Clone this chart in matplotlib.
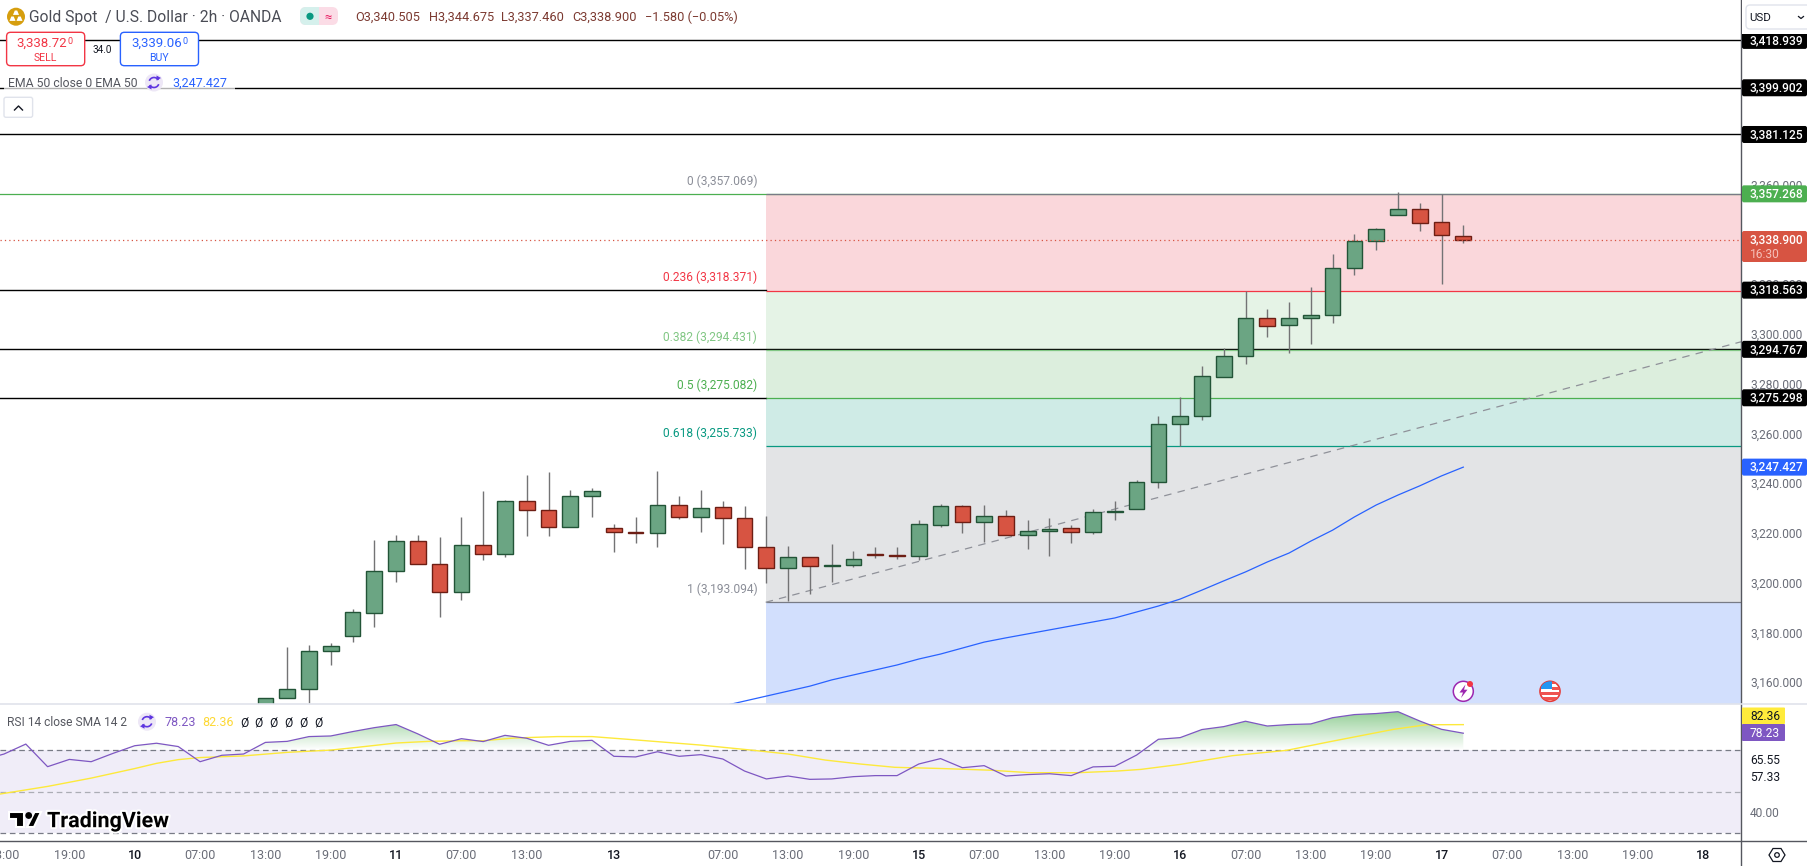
import numpy as np
import matplotlib
matplotlib.use('Agg')
import matplotlib.pyplot as plt
from matplotlib.patches import Arc, Circle, FancyBboxPatch, PathPatch, Polygon, Rectangle
from matplotlib.path import Path
from matplotlib.transforms import ScaledTranslation
import matplotlib.patheffects as pe

plt.rcParams['font.family'] = ['Roboto', 'DejaVu Sans']

# 2h candles, bar 0 is the first one visible above the RSI pane
opens = [3151.0, 3154.5, 3158.1, 3173.4, 3179.4, 3188.9, 3205.5, 3217.6, 3208.4, 3197.1, 3216.0, 3212.4, 3233.7, 3230.1,
         3223.2, 3235.7, 3222.8, 3221.2, 3220.8, 3232.1, 3227.2, 3231.3, 3226.8, 3215.2, 3206.8, 3211.2, 3207.6, 3208.0,
         3212.4, 3212.0, 3211.9, 3224.0, 3231.7, 3225.2, 3227.6, 3220.0, 3221.6, 3222.8, 3221.2, 3229.3, 3230.5, 3241.3,
         3264.6, 3267.8, 3283.5, 3292.0, 3307.2, 3304.4, 3307.2, 3308.4, 3327.3, 3338.2, 3348.6, 3351.0, 3345.8, 3340.505]
highs = [3154.5, 3175.0, 3175.8, 3176.6, 3190.4, 3218.1, 3220.0, 3220.0, 3219.2, 3227.2, 3237.7, 3234.1, 3244.3, 3245.3,
         3238.1, 3238.9, 3224.4, 3227.2, 3245.7, 3235.7, 3238.1, 3233.7, 3231.7, 3227.6, 3215.6, 3211.2, 3216.4, 3213.6,
         3215.2, 3215.2, 3226.0, 3232.5, 3232.1, 3232.1, 3230.1, 3226.0, 3226.8, 3224.0, 3230.5, 3233.7, 3242.1, 3267.8,
         3275.5, 3287.9, 3295.2, 3318.3, 3310.8, 3313.7, 3319.7, 3333.0, 3341.0, 3343.4, 3357.9, 3353.4, 3357.1, 3344.675]
lows = [3148.0, 3154.5, 3152.5, 3168.0, 3177.3, 3183.3, 3201.4, 3208.4, 3187.3, 3194.2, 3210.2, 3211.4, 3219.9, 3219.9,
        3223.2, 3227.5, 3213.4, 3217.1, 3215.5, 3226.4, 3221.5, 3216.7, 3206.6, 3201.0, 3193.8, 3196.6, 3201.1, 3207.4,
        3211.0, 3210.6, 3210.2, 3223.5, 3221.1, 3217.5, 3220.0, 3214.6, 3211.8, 3217.1, 3220.7, 3226.3, 3230.5, 3238.9,
        3255.9, 3266.4, 3283.5, 3289.0, 3299.9, 3293.4, 3297.0, 3305.5, 3324.8, 3334.8, 3348.6, 3342.5, 3321.2, 3337.46]
closes = [3154.5, 3158.1, 3173.4, 3175.4, 3189.1, 3205.5, 3217.6, 3208.4, 3197.1, 3216.0, 3212.4, 3233.7, 3230.1, 3223.2,
          3235.7, 3237.7, 3221.2, 3220.8, 3232.1, 3227.2, 3230.9, 3226.8, 3215.2, 3206.8, 3211.2, 3207.6, 3208.0, 3210.4,
          3212.2, 3211.8, 3224.4, 3231.7, 3225.2, 3227.6, 3220.0, 3221.6, 3222.4, 3221.2, 3229.3, 3229.7, 3241.3, 3264.6,
          3267.8, 3283.9, 3292.0, 3307.2, 3304.0, 3307.2, 3308.4, 3327.3, 3338.2, 3343.0, 3351.0, 3345.4, 3340.6, 3338.9]

# EMA 50, bars 21 to 55
ema_first_bar = 21
ema_vals = [3151.4, 3153.4, 3155.4, 3157.4, 3159.4, 3161.9, 3163.9, 3165.9, 3167.9, 3170.3, 3172.3, 3174.7, 3177.1,
            3178.8, 3180.4, 3182.0, 3183.6, 3185.2, 3186.8, 3189.2, 3191.6, 3194.4, 3198.0, 3201.7, 3205.3, 3209.3,
            3212.9, 3217.7, 3222.1, 3227.4, 3232.2, 3236.2, 3239.9, 3243.9, 3247.427]

# RSI, bars -13 to 55
rsi_first_bar = -13
rsi_vals = [65.3, 68.2, 73.0, 62.1, 65.6, 64.5, 68.5, 72.2, 73.4, 71.8, 64.5, 67.6, 68.2,
            73.8, 74.3, 76.6, 76.9, 79.0, 80.9, 82.4, 77.9, 72.9, 75.6, 74.2, 77.2, 75.8, 72.4, 74.3, 74.8, 67.1, 66.8,
            69.3, 67.1, 67.9, 65.8, 60.0, 56.2, 57.6, 56.0, 56.2, 57.3, 57.8, 57.8, 63.4, 66.0, 61.6, 62.6, 57.6, 58.3,
            58.7, 57.8, 62.0, 62.3, 67.7, 75.3, 76.1, 80.0, 81.4, 84.0, 81.7, 82.4, 82.7, 85.7, 87.2, 87.7, 88.6, 84.1,
            80.1, 78.23]

# SMA of the RSI, read at the bends
sma_bars = [-13, -12.2, -10, -8, -6, -5, -4, -3, -1, 1, 3, 4.2, 6, 7.5, 9, 10, 11.4, 13.4, 15, 17, 20, 22.3, 24, 25.7,
            27.3, 28.9, 31.1, 33.3, 35.1, 37.3, 39.1, 40.2, 42, 44.4, 46.9, 48.9, 51.8, 53.3, 55]
sma_vals = [47.5, 48.9, 52.6, 56.6, 61.2, 63.7, 65.5, 66.5, 67.3, 69.0, 70.1, 71.4, 73.5, 74.3, 74.6, 74.6, 75.9, 76.6,
            76.6, 75.0, 72.5, 70.1, 68.2, 65.3, 63.4, 61.8, 61.2, 60.4, 59.2, 59.2, 60.0, 60.8, 63.2, 67.4, 70.0, 74.2,
            80.1, 82.3, 82.36]

# fib retracement
fib_ratios = ['0', '0.236', '0.382', '0.5', '0.618', '1']
fib_prices = [3357.069, 3318.371, 3294.431, 3275.082, 3255.733, 3193.094]
fib_line_colors = ['#787B86', '#F23645', '#81C784', '#4CAF50', '#089981', '#787B86']
fib_text_colors = ['#8b8e98', '#F23645', '#81C784', '#4CAF50', '#089981', '#8b8e98']
fib_fills = ['#FAD7DB', '#E5F3E6', '#DCEEDD', '#CFEBE6', '#E3E4E6']
fib_below = '#D2DFFD'
fib_start_bar = 22.97

# horizontal lines, the first group runs right across, the second stops at the fib box
black_levels_full = [3418.939, 3399.902, 3381.125, 3294.767]
black_levels_left = [3318.563, 3275.298]
green_level = 3357.268
last_price = 3338.900
ema_last = 3247.427
trend_bars = [22.97, 67.75]
trend_prices = [3193.1, 3297.8]

# x axis
time_bars = [-12, -9, -6, -3, 0, 3, 6, 9, 12, 16, 21, 24, 27, 30, 33, 36, 39, 42, 45, 48, 51, 54, 57, 60, 63, 66]
time_labels = ['13:00', '19:00', '10', '07:00', '13:00', '19:00', '11', '07:00', '13:00', '13', '07:00', '13:00',
               '19:00', '15', '07:00', '13:00', '19:00', '16', '07:00', '13:00', '19:00', '17', '07:00', '13:00',
               '19:00', '18']
price_ticks = list(range(3160, 3421, 20))

W, H = 1808, 866
plot_r, main_b, rsi_b = 1741, 704, 841
x_lim = (-12.185, 67.75)
price_lim = (3152.22, 3435.18)
rsi_lim = (26.3, 92.3)

fig = plt.figure(figsize=(W / 100, H / 100), dpi=100, facecolor='white')
ax = fig.add_axes([0, (H - main_b) / H, plot_r / W, main_b / H])
ax2 = fig.add_axes([0, (H - rsi_b) / H, plot_r / W, (rsi_b - main_b) / H])
ui = fig.add_axes([0, 0, 1, 1], zorder=10)
ui.set_xlim(0, W)
ui.set_ylim(H, 0)
ui.axis('off')
ui.patch.set_alpha(0)


def px(size):
    return size * 0.72


def label(x, y, s, size=12, color='#131722', ha='left', **kw):
    # text sat a little low against the reference
    return ui.text(x, y - 1.3, s, fontsize=px(size), color=color, ha=ha, va='center_baseline', **kw)


def price_y(p):
    return (price_lim[1] - p) / (price_lim[1] - price_lim[0]) * main_b


def box(x0, y0, x1, y1, fc, ec='none', r=2, lw=1.0, z=3):
    ui.add_patch(FancyBboxPatch((x0, y0), x1 - x0, y1 - y0, boxstyle='round,pad=0,rounding_size=%s' % r,
                                fc=fc, ec=ec, lw=lw, zorder=z))


def sync_icon(cx, cy):
    ui.add_patch(Circle((cx, cy), 9, fc='#EDE7F6', ec='none', zorder=3))
    ui.add_patch(Arc((cx, cy), 10, 10, theta1=20, theta2=150, color='#5E35E0', lw=1.2, zorder=4))
    ui.add_patch(Arc((cx, cy), 10, 10, theta1=200, theta2=330, color='#5E35E0', lw=1.2, zorder=4))
    ui.add_patch(Polygon([(cx + 2.5, cy - 7), (cx + 7, cy - 4.5), (cx + 2.5, cy - 2)], fc='#5E35E0', ec='none', zorder=4))
    ui.add_patch(Polygon([(cx - 2.5, cy + 7), (cx - 7, cy + 4.5), (cx - 2.5, cy + 2)], fc='#5E35E0', ec='none', zorder=4))


# main pane
ax.set_xlim(*x_lim)
ax.set_ylim(*price_lim)
for s in ax.spines.values():
    s.set_visible(False)
ax.set_xticks([])
ax.yaxis.tick_right()
ax.set_yticks(price_ticks)
ax.set_yticklabels(['{:,.3f}'.format(p) for p in price_ticks], fontsize=px(12), color='#6a6d78')
ax.tick_params(axis='y', length=0, pad=6.5)
for t in ax.get_yticklabels():
    t.set_transform(t.get_transform() + ScaledTranslation(0, 2.5 / 100, fig.dpi_scale_trans))

for lv in black_levels_full:
    ax.axhline(lv, color='black', lw=1.0, zorder=1)
for lv in black_levels_left:
    ax.plot([x_lim[0], fib_start_bar], [lv, lv], color='black', lw=1.0, zorder=1)
ax.axhline(green_level, color='#4CAF50', lw=0.9, zorder=1)

for i in range(len(fib_fills)):
    ax.fill_between([fib_start_bar, x_lim[1]], fib_prices[i + 1], fib_prices[i], color=fib_fills[i], lw=0, zorder=0.5)
ax.fill_between([fib_start_bar, x_lim[1]], price_lim[0], fib_prices[-1], color=fib_below, lw=0, zorder=0.5)
for p, c in zip(fib_prices, fib_line_colors):
    ax.plot([fib_start_bar, x_lim[1]], [p, p], color=c, lw=0.9, zorder=1.5, solid_capstyle='butt')

ax.plot(trend_bars, trend_prices, color='#8f9199', lw=0.9, dashes=(6, 5), zorder=2)
ax.plot(np.arange(len(ema_vals)) + ema_first_bar, ema_vals, color='#2962FF', lw=0.9, zorder=2)

bars = np.arange(len(opens))
o = np.array(opens)
c = np.array(closes)
up = c >= o
ax.vlines(bars, lows, highs, color='#737375', lw=1.0, zorder=3)
ax.bar(bars[up], (c - o)[up], bottom=o[up], width=0.72, color='#6BA583', edgecolor='#225437', lw=1.0, zorder=4)
ax.bar(bars[~up], (o - c)[~up], bottom=c[~up], width=0.72, color='#D75442', edgecolor='#6D1E14', lw=1.0, zorder=4)
ax.axhline(last_price, color='#D75442', lw=0.9, dashes=(1, 2.5), zorder=5)

for r, p, col in zip(fib_ratios, fib_prices, fib_text_colors):
    ax.annotate('%s (%s)' % (r, '{:,.3f}'.format(p)), (fib_start_bar, p), xytext=(-6, 4.5), textcoords='offset points',
                ha='right', va='bottom', fontsize=px(12), color=col, zorder=6)

# RSI pane
ax2.set_xlim(*x_lim)
ax2.set_ylim(*rsi_lim)
for s in ax2.spines.values():
    s.set_visible(False)
ax2.set_yticks([])
ax2.set_xticks(time_bars)
ax2.set_xticklabels(time_labels, fontsize=px(12.5))
ax2.tick_params(axis='x', length=0, pad=5.5)
for t in ax2.get_xticklabels():
    if ':' in t.get_text():
        t.set_color('#6a6d78')
    else:
        t.set_color('#131722')
        t.set_fontweight('medium')

ax2.axhspan(30, 70, color='#F0EDF8', lw=0, zorder=0.5)
ax2.axhline(70, color='#787B86', lw=0.9, dashes=(4.5, 3), zorder=1)
ax2.axhline(50, color='#ABADB5', lw=0.9, dashes=(4.5, 3), zorder=1)
ax2.axhline(30, color='#787B86', lw=0.9, dashes=(4.5, 3), zorder=1)

rsi_x = np.arange(len(rsi_vals)) + rsi_first_bar
rsi_y = np.array(rsi_vals)
area = ax2.fill_between(rsi_x, rsi_y, 70, where=rsi_y >= 70, interpolate=True, color='none', lw=0)
grad = np.zeros((256, 1, 4))
grad[:, 0, :3] = np.array([76, 175, 80]) / 255
grad[:, 0, 3] = np.linspace(0.62, 0, 256)
im = ax2.imshow(grad, extent=(x_lim[0], x_lim[1], 70, 89), aspect='auto', zorder=1.5, origin='upper')
ax2.set_xlim(*x_lim)
ax2.set_ylim(*rsi_lim)
im.set_clip_path(PathPatch(Path.make_compound_path(*area.get_paths()), transform=ax2.transData))
ax2.plot(sma_bars, sma_vals, color='#FDE93B', lw=1.0, zorder=2)
ax2.plot(rsi_x, rsi_y, color='#7E57C2', lw=0.9, zorder=3)

# frame lines
ui.plot([plot_r, plot_r], [0, H], color='#55575f', lw=1.0, zorder=2)
ui.plot([0, W], [main_b, main_b], color='#E0E3EB', lw=1.2, zorder=2)
ui.plot([0, W], [rsi_b, rsi_b], color='#55575f', lw=1.0, zorder=2)

# price badges
for lv in black_levels_full + black_levels_left:
    y = price_y(lv)
    box(plot_r + 1, y - 8.5, 1807, y + 8.5, 'black')
    label(1750, y, '{:,.3f}'.format(lv), color='white', fontweight='medium', zorder=4)
y = price_y(green_level)
box(plot_r + 1, y - 8.5, 1807, y + 8.5, '#4CAF50')
label(1750, y, '{:,.3f}'.format(green_level), color='white', fontweight='medium', zorder=4)
box(plot_r + 1, 231, 1807, 262, '#D75442')
label(1750, 240, '{:,.3f}'.format(last_price), color='white', fontweight='medium', zorder=4)
label(1750, 254, '16:30', color='#F5C0B8', zorder=4)
y = price_y(ema_last)
box(plot_r + 1, y - 8.5, 1807, y + 8.5, '#2962FF')
label(1750, y, '{:,.3f}'.format(ema_last), color='white', fontweight='medium', zorder=4)

# currency box
ui.add_patch(Rectangle((plot_r + 1, 0), W - plot_r, 34, fc='white', ec='none', zorder=5))
box(1746, 5, 1812, 29, 'white', ec='#E0E3EB', r=4, z=6)
label(1749, 18, 'USD', size=11.5, color='#131722', zorder=7)
ui.plot([1798.5, 1801, 1803.5], [16.5, 18.5, 16.5], color='#131722', lw=0.9, zorder=7)

# RSI badges
box(plot_r + 1, 707.5, 1785, 724, '#FFEB3B', r=1)
label(1750, 716.5, '82.36', color='#131722', zorder=4)
box(plot_r + 1, 724, 1785, 741, '#7E57C2', r=1)
label(1750, 733, '78.23', color='white', zorder=4)
label(1750, 760.5, '65.55', color='#131722')
label(1750, 777.6, '57.33', color='#131722')
label(1750, 813.5, '40.00', color='#6a6d78')

# settings icon
ang = np.deg2rad(np.arange(0, 360, 60))
ui.add_patch(Polygon(np.c_[1777 + 8 * np.cos(ang), 855 + 7.5 * np.sin(ang)], fc='none', ec='#131722', lw=0.9))
ui.add_patch(Circle((1777, 855), 2.3, fc='none', ec='#131722', lw=0.9))

# header
ui.add_patch(Circle((16, 16.7), 9, fc='#D69E0E', ec='none'))
for tx, ty in [(16, 12.5), (12.5, 18.5), (19.5, 18.5)]:
    ui.add_patch(Polygon([(tx - 3, ty + 2.4), (tx - 1.2, ty - 2), (tx + 1.2, ty - 2), (tx + 3, ty + 2.4)], fc='white', ec='none'))
label(29.5, 17.5, 'Gold Spot  / U.S. Dollar · 2h · OANDA', size=15.6, color='#4a4c55')
box(300, 7, 338, 25, '#FBDCE6', r=6)
box(300, 7, 319, 25, '#D5F0EC', r=6)
ui.add_patch(Rectangle((314, 7), 5, 18, fc='#D5F0EC', ec='none', zorder=3))
ui.add_patch(Circle((310, 16.3), 3.6, fc='#089981', ec='none', zorder=4))
label(328, 17, '≈', size=13, color='#E91E63', ha='center', zorder=4)
for hx, s in [(355.6, 'O3,340.505'), (428.6, 'H3,344.675'), (501.5, 'L3,337.460'), (572.4, 'C3,338.900'),
              (645, '−1.580 (−0.05%)')]:
    label(hx, 17.5, s, size=12.8, color='#7C3A31')

# sell / buy
box(6.6, 32.3, 84.7, 65.7, 'white', ec='#F23645', r=4)
label(42, 43, '3,338.72', size=13.2, color='#F23645', ha='center', zorder=4)
label(70.5, 41.5, '0', size=9, color='#F23645', ha='center', zorder=4)
label(45.6, 58, 'SELL', size=10.5, color='#F23645', ha='center', zorder=4)
box(120.4, 32.3, 198.5, 65.7, 'white', ec='#2962FF', r=4)
label(156.6, 43, '3,339.06', size=13.2, color='#2962FF', ha='center', zorder=4)
label(185, 41.5, '0', size=9, color='#2962FF', ha='center', zorder=4)
label(159.4, 58, 'BUY', size=10.5, color='#2962FF', ha='center', zorder=4)
label(102.5, 50.5, '34.0', size=10, color='#131722', ha='center')

# EMA legend
ui.add_patch(Rectangle((4, 73), 231, 19, fc='white', ec='none', alpha=0.7, zorder=2))
label(7.6, 83.5, 'EMA 50 close 0 EMA 50', size=12.3, color='#55575f', zorder=3)
sync_icon(154, 82.5)
label(172, 83.5, '3,247.427', size=12.5, color='#2962FF', zorder=3)

# collapse button
box(4, 97.3, 32.6, 117.3, 'white', ec='#E0E3EB', r=2)
ui.plot([14.5, 18.5, 22.5], [110, 106, 110], color='#131722', lw=1.0, zorder=4)

# RSI legend
label(7, 722.5, 'RSI 14 close SMA 14 2', size=12, color='#55575f', zorder=3)
sync_icon(147, 721.7)
label(164.7, 722.5, '78.23', size=12.5, color='#7E57C2', zorder=3)
label(202, 722.5, '82.36', size=12.5, color='#FDD835', zorder=3)
for nx in [240, 254.5, 268.8, 284, 299, 314]:
    label(nx, 722.5, 'Ø', size=12, color='#131722', zorder=3)

# TradingView logo
halo = [pe.withStroke(linewidth=3, foreground='white')]
for shape in [Polygon([(9, 812), (24, 812), (24, 827), (16.5, 827), (16.5, 819), (9, 819)], fc='black', ec='white', lw=1.5),
              Polygon([(34.5, 812), (41, 812), (34, 827), (27, 827)], fc='black', ec='white', lw=1.5)]:
    ui.add_patch(shape)
ui.add_patch(Circle((28.7, 815.5), 3.4, fc='black', ec='none'))
label(47, 821, 'TradingView', size=21.5, color='black', fontweight='bold', path_effects=halo, zorder=4)

# event icons
ui.add_patch(Circle((1463.3, 691.3), 10, fc='white', ec='#9C27B0', lw=1.1, zorder=3))
ui.add_patch(Polygon([(1465.5, 684.5), (1459.5, 692.5), (1463, 692.5), (1461, 698), (1467.5, 689.7), (1464, 689.7)],
                     fc='#9C27B0', ec='none', zorder=4))
ui.add_patch(Circle((1470, 684), 3, fc='#F23645', ec='none', zorder=5))
disc = Circle((1550, 691.3), 10, fc='white', ec='#E53935', lw=1.2, zorder=3)
ui.add_patch(disc)
for sy, sh, col, sx, sw in [(681, 8, '#2196F3', 1541, 11), (681, 3, '#EF5350', 1552, 9), (686.5, 3, '#EF5350', 1552, 9),
                            (692, 2.5, '#EF5350', 1540, 20), (697, 3, '#EF5350', 1540, 20)]:
    st = Rectangle((sx, sy), sw, sh, fc=col, ec='none', zorder=4)
    ui.add_patch(st)
    st.set_clip_path(disc)

fig.savefig('out.png', dpi=100)
